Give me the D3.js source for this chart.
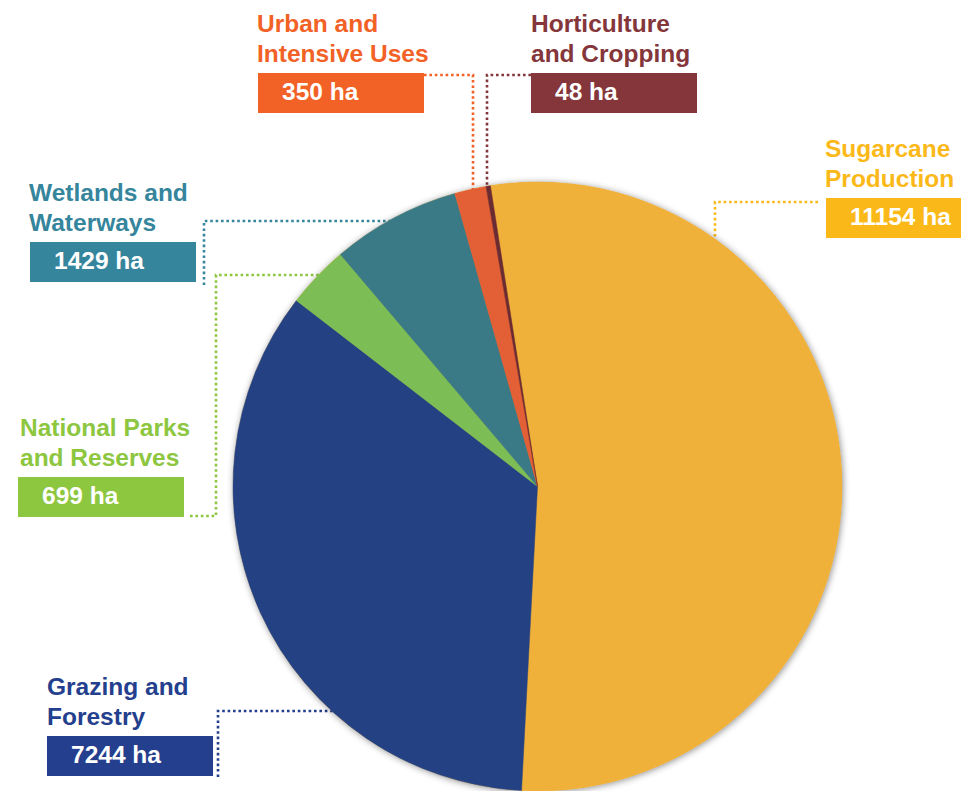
<!DOCTYPE html>
<html>
<head>
<meta charset="utf-8">
<script src="https://cdn.jsdelivr.net/npm/d3@7"></script>
<style>
  html, body { margin: 0; padding: 0; background: #fff; }
  svg { display: block; font-family: "Liberation Sans", Arial, sans-serif; font-weight: bold; }
</style>
</head>
<body>
<svg id="chart" width="961" height="791"></svg>
<script>
// land use areas, clockwise from the top
const categories = ["Sugarcane", "Grazing", "NationalParks", "Wetlands", "Urban", "Horticulture"];
const values = [11154, 7244, 699, 1429, 350, 48];
const titleLines = [
  ["Sugarcane", "Production"],
  ["Grazing and", "Forestry"],
  ["National Parks", "and Reserves"],
  ["Wetlands and", "Waterways"],
  ["Urban and", "Intensive Uses"],
  ["Horticulture", "and Cropping"]
];
const unit = "ha";

// styling, per category
const sliceColors = ["#f0b13b", "#234183", "#7dbd55", "#3a7a87", "#e35f35", "#6b2b33"];
const labelColors = ["#fbb919", "#243f8d", "#8dc63f", "#35859c", "#f26125", "#84363a"];

// label layout: text x, box [x, top, width], leader polyline + where it meets the pie
const layout = {
  Sugarcane:     { x: 825, box: [826, 198, 140], pts: [[818, 202], [715, 202]], edge: "down" },
  Grazing:       { x: 47,  box: [47, 736, 166],  pts: [[218, 777], [218, 711]], edge: "right" },
  NationalParks: { x: 20,  box: [18, 477, 166],  pts: [[190, 516], [216, 516], [216, 275]], edge: "right" },
  Wetlands:      { x: 29,  box: [30, 242, 166],  pts: [[204, 285], [204, 221]], edge: "right" },
  Urban:         { x: 257, box: [258, 73, 166],  pts: [[424, 75], [473, 75]], edge: "down" },
  Horticulture:  { x: 531, box: [531, 73, 166],  pts: [[531, 75], [487, 75]], edge: "down" }
};

const cx = 537.5, cy = 486.5, R = 304.5;
const start = -8.9 * Math.PI / 180;

const svg = d3.select("#chart");
const defs = svg.append("defs");
const f = defs.append("filter").attr("id", "shadow")
  .attr("x", "-10%").attr("y", "-10%").attr("width", "120%").attr("height", "120%");
f.append("feDropShadow").attr("dx", 1).attr("dy", 1).attr("stdDeviation", 3.5)
  .attr("flood-color", "#000").attr("flood-opacity", 0.45);

const data = categories.map((c, i) => ({ key: c, value: values[i], i }));

const pie = d3.pie().sort(null).value(d => d.value)
  .startAngle(start).endAngle(start + 2 * Math.PI);
const arc = d3.arc().innerRadius(0).outerRadius(R);

// leaders first, so the pie covers their ends
const leaders = svg.append("g").attr("class", "leaders");
data.forEach(d => {
  const L = layout[d.key];
  const pts = L.pts.slice();
  const last = pts[pts.length - 1];
  const inset = 7;
  if (L.edge === "down") {
    const dx = last[0] - cx;
    pts.push([last[0], cy - Math.sqrt(R * R - dx * dx) + inset]);
  } else {
    const dy = last[1] - cy;
    pts.push([cx - Math.sqrt(R * R - dy * dy) + inset, last[1]]);
  }
  leaders.append("path")
    .attr("d", d3.line()(pts))
    .attr("fill", "none")
    .attr("stroke", labelColors[d.i])
    .attr("stroke-width", 2.6)
    .attr("stroke-dasharray", "2.6 2.8");
});

const g = svg.append("g").attr("transform", `translate(${cx},${cy})`);
g.append("circle").attr("r", R).attr("fill", "#f0b13b").attr("filter", "url(#shadow)");
g.selectAll("path.slice")
  .data(pie(data))
  .join("path")
  .attr("class", "slice")
  .attr("d", arc)
  .attr("fill", d => sliceColors[d.data.i])
  .attr("stroke", d => sliceColors[d.data.i])
  .attr("stroke-width", 0.5);

// labels
const labels = svg.append("g").attr("class", "labels");
data.forEach(d => {
  const L = layout[d.key];
  const [bx, by, bw] = L.box;
  const lg = labels.append("g");
  lg.selectAll("text.title")
    .data(titleLines[d.i])
    .join("text")
    .attr("class", "title")
    .attr("x", L.x)
    .attr("y", (t, j) => by - 41 + j * 30)
    .attr("font-size", 24.5)
    .attr("fill", labelColors[d.i])
    .text(t => t);
  lg.append("rect")
    .attr("x", bx).attr("y", by)
    .attr("width", bw).attr("height", 40)
    .attr("fill", labelColors[d.i]);
  lg.append("text")
    .attr("x", bx + 24)
    .attr("y", by + 27)
    .attr("font-size", 24.5)
    .attr("fill", "#fff")
    .text(d3.format("d")(d.value) + " " + unit);
});
</script>
</body>
</html>
